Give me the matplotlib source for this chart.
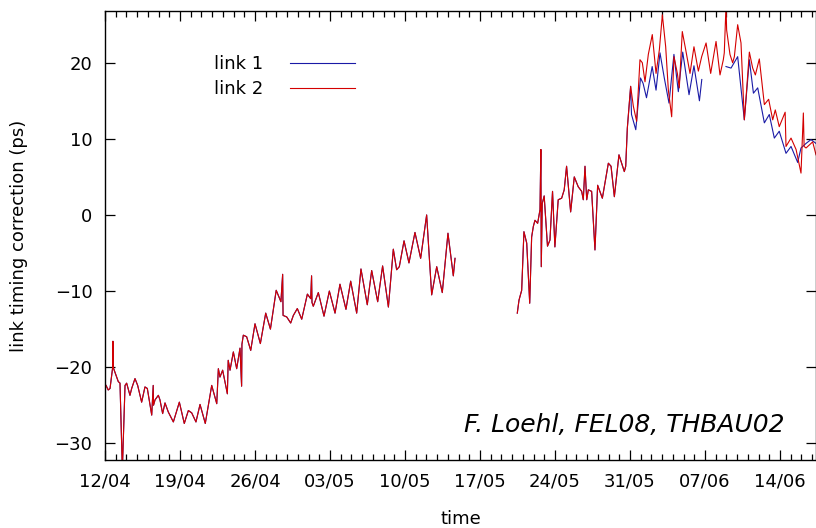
import numpy as np
import matplotlib
matplotlib.use("Agg")
import matplotlib.pyplot as plt
import matplotlib.dates as mdates

# start of the run (day 0 = 12/04/2008 00:00)
t0 = np.datetime64("2008-04-12T00:00")

# link 2, days since t0 / correction in ps (NaN = no data)
days2 = [0.1, 0.3, 0.47, 0.72, 0.74, 0.76, 1.09, 1.24, 1.4, 1.62, 1.87, 2.02, 2.33, 2.49,
         2.8, 3.05, 3.42, 3.73, 3.95, 4.36, 4.5, 4.53, 4.67, 4.98, 5.13, 5.38, 5.6, 5.91,
         6.38, 6.94, 7.4, 7.78, 8.09, 8.49, 8.87, 9.36, 9.96, 10.43, 10.58, 10.73, 10.98,
         11.42, 11.5, 11.67, 11.98, 12.29, 12.6, 12.75, 12.78, 12.91, 13.22, 13.6, 14.0,
         14.5, 15.0, 15.44, 15.98, 16.42, 16.58, 16.62, 16.96, 17.33, 17.58, 17.95, 18.36,
         18.89, 19.2, 19.28, 19.32, 19.44, 19.91, 20.44, 20.94, 21.47, 21.93, 22.49, 22.93,
         23.49, 23.89, 24.48, 24.89, 25.45, 25.91, 26.45, 26.91, 27.22, 27.47, 27.91, 28.37,
         28.93, 29.46, 29.87, 30.02, 30.49, 30.96, 31.48, 32.01, 32.51, 32.67,
         35.0,
         38.48, 38.64, 38.89, 39.1, 39.36, 39.64, 39.82, 39.98, 40.13, 40.38, 40.6, 40.68,
         40.72, 40.81, 40.99, 41.3, 41.53, 41.77, 41.99, 42.3, 42.62, 42.86, 43.08, 43.46,
         43.8, 44.17, 44.49, 44.64, 44.8, 44.96, 45.11, 45.42, 45.73, 45.98, 46.42, 46.98,
         47.23, 47.54, 47.97, 48.47, 48.6, 48.75, 49.06, 49.31, 49.62, 49.93, 50.15, 50.4,
         50.71, 51.08, 51.43, 51.74, 52.02, 52.33, 52.58, 52.89, 53.1, 53.42, 53.6, 53.88,
         54.2, 54.6, 54.97, 55.38, 55.69, 56.1, 56.53, 57.03, 57.4, 57.71, 57.8, 57.96,
         58.02, 58.33, 58.58, 58.74, 59.05, 59.36, 59.67, 59.83, 60.14, 60.45, 60.7, 61.07,
         61.54, 61.94, 62.32, 62.56, 62.93, 63.48, 63.56, 64.03, 64.5, 64.96, 65.18, 65.25,
         65.43, 65.74, 66.05, 66.36]
vals2 = [-22.4, -23.0, -22.8, -20.0, -16.6, -20.0, -21.3, -21.9, -22.1, -33.5, -22.4, -22.1,
         -23.7, -22.8, -21.5, -22.4, -24.6, -22.6, -22.8, -26.3, -22.4, -25.0, -24.3, -23.7,
         -24.3, -26.1, -24.7, -25.9, -27.2, -24.6, -27.4, -25.7, -26.0, -27.2, -24.9, -27.4,
         -22.4, -24.8, -20.2, -21.3, -20.4, -23.5, -19.1, -20.4, -18.0, -20.2, -17.5, -22.5,
         -17.0, -15.8, -16.0, -17.8, -14.3, -16.9, -12.9, -15.0, -9.9, -11.4, -7.8, -13.2,
         -13.4, -14.2, -13.2, -12.3, -13.7, -10.4, -11.0, -8.0, -11.5, -12.0, -10.2, -13.3,
         -10.0, -12.9, -9.1, -12.4, -8.7, -12.9, -7.1, -11.8, -7.3, -11.4, -6.7, -12.1, -4.5,
         -7.2, -6.8, -3.4, -6.3, -2.3, -5.7, -1.5, 0.0, -10.5, -6.8, -10.2, -2.4, -8.0, -5.7,
         np.nan,
         -12.9, -11.2, -9.9, -2.2, -3.7, -11.6, -2.9, -1.5, -0.7, -1.1, 0.7, 8.6, -6.8, 1.5,
         2.5, -4.1, -3.3, 3.1, -4.2, 2.0, 2.2, 3.3, 6.4, 0.4, 5.0, 3.7, 3.1, 2.0, 6.4, 2.0,
         3.3, 3.1, -4.6, 3.9, 2.2, 6.8, 6.4, 2.4, 7.9, 5.7, 6.4, 11.4, 16.9, 14.3, 12.3, 20.4,
         20.0, 17.5, 21.1, 23.7, 18.6, 21.7, 26.3, 22.1, 16.4, 12.9, 20.8, 18.6, 16.7, 24.1,
         21.7, 18.6, 22.1, 18.9, 20.8, 22.6, 18.6, 22.8, 18.4, 20.4, 21.3, 27.5, 24.3, 21.1,
         20.0, 20.8, 25.0, 22.6, 12.5, 15.4, 21.4, 19.3, 18.4, 20.5, 14.5, 15.2, 12.5, 13.8,
         11.6, 13.5, 9.0, 10.1, 8.6, 5.5, 13.4, 9.0, 8.8, 9.2, 9.6, 7.9]

# link 1 follows link 2 until 31/05, then its own readings
days1_own = [49.14, 49.54, 49.98, 50.22, 50.54, 51.07, 51.43, 51.8, 52.2, 52.64, 53.1,
             53.51, 53.92, 54.51, 54.97, 55.48, 55.7, 56.8, 57.96, 58.43, 59.05, 59.67,
             60.14, 60.52, 60.92, 61.54, 62.0, 62.47, 62.93, 63.56, 64.03, 64.65, 64.96,
             65.43, 65.89, 66.36]
vals1_own = [13.2, 11.2, 18.0, 17.3, 15.4, 19.5, 16.4, 21.3, 18.0, 14.7, 21.1, 16.2, 21.4,
             15.8, 19.6, 15.0, 17.8, np.nan, 19.5, 19.3, 20.8, 12.5, 20.4, 16.0, 16.7, 12.1,
             13.2, 10.1, 11.0, 8.1, 9.0, 6.9, 8.8, 9.4, 9.9, 9.4]

tick_days = [0, 7, 14, 21, 28, 35, 42, 49, 56, 63]

d2 = np.array(days2)
v2 = np.array(vals2)
d1 = np.concatenate([d2[d2 < 49.1], days1_own])
v1 = np.concatenate([v2[d2 < 49.1], vals1_own])


def to_dates(d):
    return t0 + (np.array(d) * 24 * 60).astype("timedelta64[m]")


plt.rcParams["font.family"] = ["DejaVu Sans"]

fig = plt.figure(figsize=(8.16, 5.28), dpi=100)
ax = fig.add_axes([105 / 816, 68 / 528, 711 / 816, 449 / 528])

ax.plot(to_dates(d1), v1, color="#1a1aa6", lw=0.8, label="link 1")
ax.plot(to_dates(d2), v2, color="#d40000", lw=0.8, label="link 2")

ax.set_xlim(to_dates([0])[0], to_dates([66.36])[0])
ax.set_ylim(-32.2, 26.8)

ax.set_xticks(to_dates(tick_days))
ax.xaxis.set_major_formatter(mdates.DateFormatter("%d/%m"))
ax.xaxis.set_minor_locator(mdates.DayLocator())
ax.set_yticks([-30, -20, -10, 0, 10, 20])

ax.tick_params(which="both", direction="in", top=True, right=True, labelsize=13, width=0.9)
ax.tick_params(which="major", length=7)
ax.tick_params(which="minor", length=4)
ax.tick_params(axis="x", pad=9)
ax.tick_params(axis="y", pad=9)
for s in ax.spines.values():
    s.set_linewidth(1.0)

ax.set_xlabel("time", fontsize=13, labelpad=14)
ax.set_ylabel("link timing correction (ps)", fontsize=13, labelpad=19)

ax.legend(loc="upper left", bbox_to_anchor=(0.153, 0.902), frameon=False,
          markerfirst=False, fontsize=13, handlelength=3.6, handletextpad=1.5,
          labelspacing=0.4, borderpad=0, borderaxespad=0)

ax.text(0.956, 0.078, "F. Loehl, FEL08, THBAU02", transform=ax.transAxes,
        ha="right", va="center", fontsize=18, style="italic")

fig.savefig("out.png", dpi=100)
